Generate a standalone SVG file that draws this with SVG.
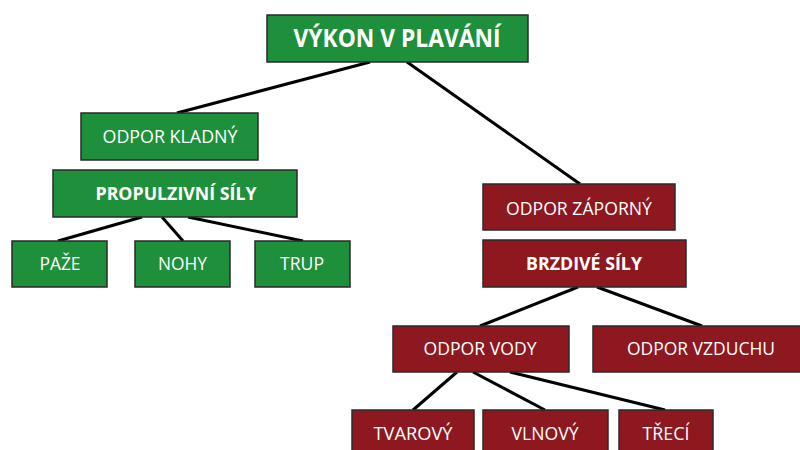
<svg xmlns="http://www.w3.org/2000/svg" width="800" height="450" viewBox="0 0 800 450">
<style>
.g{fill:#1e8f3b;stroke:#2a2a2a;stroke-width:1.5}
.r{fill:#8e1820;stroke:#2a2a2a;stroke-width:1.5}
text{font-family:"Open Sans","Noto Sans",sans-serif;fill:#fff;text-anchor:middle;font-size:18.5px}
.b{font-weight:bold}
.t{font-weight:bold;font-size:25.5px}
#connectors line{stroke:#000;stroke-width:3}
</style>
<rect width="800" height="450" fill="#fff"/>
<g id="connectors">
<line x1="370" y1="62" x2="177" y2="113"/>
<line x1="407" y1="62" x2="580" y2="184"/>
<line x1="142" y1="217" x2="58" y2="241"/>
<line x1="162" y1="217" x2="183" y2="241"/>
<line x1="188" y1="217" x2="303" y2="241"/>
<line x1="578" y1="287" x2="480" y2="326"/>
<line x1="597" y1="287" x2="702" y2="326"/>
<line x1="457" y1="372" x2="413" y2="410"/>
<line x1="473" y1="372" x2="545" y2="410"/>
<line x1="510" y1="372" x2="665" y2="410"/>
</g>
<g id="vykon"><rect class="g" x="267" y="15" width="261" height="47"/><text class="t" x="397" y="47" textLength="207" lengthAdjust="spacingAndGlyphs">VÝKON V PLAVÁNÍ</text></g>
<g id="kladny"><rect class="g" x="81" y="113" width="177" height="47"/><text x="170" y="143" textLength="135" lengthAdjust="spacingAndGlyphs">ODPOR KLADNÝ</text></g>
<g id="propulzivni"><rect class="g" x="53" y="170" width="244" height="47"/><text class="b" x="176" y="200" textLength="161" lengthAdjust="spacingAndGlyphs">PROPULZIVNÍ SÍLY</text></g>
<g id="paze"><rect class="g" x="12" y="241" width="95" height="46"/><text x="60" y="270" textLength="41" lengthAdjust="spacingAndGlyphs">PAŽE</text></g>
<g id="nohy"><rect class="g" x="135" y="241" width="95" height="46"/><text x="182.5" y="270" textLength="49" lengthAdjust="spacingAndGlyphs">NOHY</text></g>
<g id="trup"><rect class="g" x="255" y="241" width="95" height="46"/><text x="302" y="270" textLength="44" lengthAdjust="spacingAndGlyphs">TRUP</text></g>
<g id="zaporny"><rect class="r" x="483" y="184" width="192" height="46"/><text x="579" y="215" textLength="146" lengthAdjust="spacingAndGlyphs">ODPOR ZÁPORNÝ</text></g>
<g id="brzdive"><rect class="r" x="483" y="240" width="203" height="47"/><text class="b" x="584" y="270" textLength="116" lengthAdjust="spacingAndGlyphs">BRZDIVÉ SÍLY</text></g>
<g id="vody"><rect class="r" x="393" y="326" width="176" height="46"/><text x="480" y="355" textLength="113" lengthAdjust="spacingAndGlyphs">ODPOR VODY</text></g>
<g id="vzduchu"><rect class="r" x="593" y="326" width="216" height="46"/><text x="701" y="355" textLength="148" lengthAdjust="spacingAndGlyphs">ODPOR VZDUCHU</text></g>
<g id="tvarovy"><rect class="r" x="352" y="410" width="122" height="46"/><text x="413" y="440" textLength="79" lengthAdjust="spacingAndGlyphs">TVAROVÝ</text></g>
<g id="vlnovy"><rect class="r" x="483" y="410" width="125" height="46"/><text x="545" y="440" textLength="67" lengthAdjust="spacingAndGlyphs">VLNOVÝ</text></g>
<g id="treci"><rect class="r" x="619" y="410" width="94" height="46"/><text x="666" y="440" textLength="47" lengthAdjust="spacingAndGlyphs">TŘECÍ</text></g>
</svg>
